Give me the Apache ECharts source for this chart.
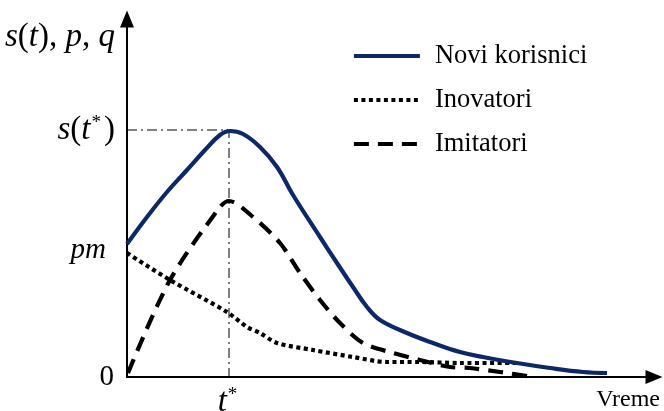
<!DOCTYPE html>
<html>
<head>
<meta charset="utf-8">
<script src="https://cdn.jsdelivr.net/npm/echarts@6/dist/echarts.min.js"></script>
<style>html,body{margin:0;padding:0;background:#fff;}#c{width:664px;height:411px;}</style>
</head>
<body>
<div id="c"></div>
<script>
// Values are in abstract units (time on x, rate on y)
var noviX = [0, 20, 40, 60, 78, 93, 103, 116, 133, 150, 166, 193, 210, 226, 240, 253, 280, 306, 333, 356, 390, 423, 456, 480];
var noviY = [133, 160, 185, 207, 227, 242, 246, 243, 230, 210, 182, 140, 114, 90, 70, 57, 44, 34, 25, 20, 14, 9, 5, 4];

var inovX = [0, 43, 100, 120, 133, 150, 186, 226, 260, 293, 333, 393];
var inovY = [124, 97, 65, 50, 44, 34, 27, 20, 15, 15, 14, 14];

var imitX = [1, 43, 93, 102, 126, 153, 173, 193, 213, 236, 266, 293, 323, 343, 373, 406];
var imitY = [4, 97, 170, 176, 160, 134, 104, 77, 54, 34, 24, 17, 10, 9, 5, 0];

var tStar = 102;      // time of peak
var sStar = 247;      // peak value s(t*)
var pm = 127;         // initial value pm
var guideX = [0, tStar, tStar];
var guideY = [sStar, sStar, 0];

var yTickValues = [0, pm, sStar];
var yTickLabels = {0: '{n|0}', 127: '{p|pm}{gap|}', 247: '{i|s}({i|t}{sup|*})'};
var xTickValues = [tStar];
var xTickLabels = {102: '{i|t}{sup|*}'};

var legendNames = ['Novi korisnici', 'Inovatori', 'Imitatori'];

function zip(a, b) { return a.map(function (v, i) { return [v, b[i]]; }); }

var serif = 'Liberation Serif';
var richStyles = {
  i: {fontFamily: serif, fontStyle: 'italic', fontSize: 33, color: '#000'},
  p: {fontFamily: serif, fontStyle: 'italic', fontSize: 29, color: '#000'},
  n: {fontFamily: serif, fontSize: 29, color: '#000', padding: [0, 1, 0, 0]},
  sup: {fontFamily: serif, fontSize: 19, color: '#000', verticalAlign: 'top', lineHeight: 19, padding: [0, 3, 0, 1]},
  gap: {width: 9}
};

var chart = echarts.init(document.getElementById('c'), null, {renderer: 'canvas'});
chart.setOption({
  animation: false,
  backgroundColor: '#fff',
  grid: {left: 127, right: 10, top: 19, bottom: 34, containLabel: false, outerBoundsMode: 'none'},
  legend: {
    data: legendNames,
    orient: 'vertical',
    left: 347,
    top: 35,
    itemWidth: 66,
    itemHeight: 20,
    itemGap: 12,
    itemStyle: {opacity: 0},
    lineStyle: {width: 3.8},
    textStyle: {fontFamily: serif, fontSize: 26.5, color: '#000', lineHeight: 24, padding: [0, 0, 8, 10]}
  },
  xAxis: {
    type: 'value', min: 0, max: 527,
    splitLine: {show: false},
    axisTick: {show: false},
    axisLine: {show: true, lineStyle: {color: '#000', width: 2}, symbol: ['none', 'triangle'], symbolSize: [14, 17]},
    axisLabel: {
      customValues: xTickValues, margin: 9, color: '#000',
      fontFamily: serif, fontSize: 33,
      formatter: function (v) { return xTickLabels[v] || ''; },
      rich: richStyles
    },
    name: 'Vreme', nameLocation: 'end', nameGap: 6,
    nameTextStyle: {fontFamily: serif, fontSize: 24, color: '#000', align: 'right', verticalAlign: 'top', padding: [11, 0, 0, 0]}
  },
  yAxis: {
    type: 'value', min: 0, max: 358,
    splitLine: {show: false},
    axisTick: {show: false},
    axisLine: {show: true, lineStyle: {color: '#000', width: 2}, symbol: ['none', 'triangle'], symbolSize: [14, 17]},
    axisLabel: {
      customValues: yTickValues, margin: 12, color: '#000',
      fontFamily: serif, fontSize: 33,
      formatter: function (v) { return yTickLabels[v] || ''; },
      rich: richStyles
    },
    name: '{i|s}({i|t}), {i|p}, {i|q}', nameLocation: 'end', nameGap: -2,
    nameTextStyle: {fontFamily: serif, fontSize: 33, color: '#000', align: 'right', verticalAlign: 'top', padding: [0, 12, 0, 0], rich: richStyles}
  },
  series: [
    {
      name: 'guide', type: 'line', data: zip(guideX, guideY), symbol: 'none', silent: true,
      lineStyle: {color: '#000', width: 1, type: [10, 4, 2, 4]}, z: 1
    },
    {
      name: 'Novi korisnici', type: 'line', data: zip(noviX, noviY), symbol: 'none', smooth: 0.4,
      lineStyle: {color: '#0c2868', width: 4.2}, itemStyle: {color: '#0c2868'}, z: 3
    },
    {
      name: 'Inovatori', type: 'line', data: zip(inovX, inovY), symbol: 'none', smooth: 0.3,
      lineStyle: {color: '#000', width: 4.2, type: [4, 3.5]}, itemStyle: {color: '#000'}, z: 2
    },
    {
      name: 'Imitatori', type: 'line', data: zip(imitX, imitY), symbol: 'none', smooth: 0.3,
      lineStyle: {color: '#000', width: 4.2, type: [15, 9]}, itemStyle: {color: '#000'}, z: 2
    }
  ]
});
</script>
</body>
</html>
